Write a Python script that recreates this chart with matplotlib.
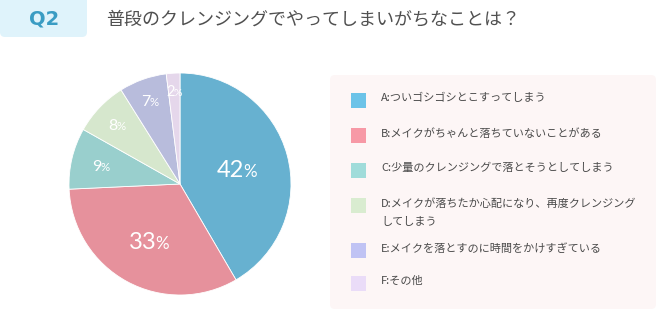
import numpy as np
import matplotlib
matplotlib.use('Agg')
import matplotlib.pyplot as plt
from matplotlib.patches import FancyBboxPatch, Rectangle

plt.rcParams['font.family'] = ['Noto Sans CJK JP', 'DejaVu Sans']

# data
labels = ['A:ついゴシゴシとこすってしまう',
          'B:メイクがちゃんと落ちていないことがある',
          'C:少量のクレンジングで落とそうとしてしまう',
          'D:メイクが落ちたか心配になり、再度クレンジング\nしてしまう',
          'E:メイクを落とすのに時間をかけすぎている',
          'F:その他']
values = [42, 33, 9, 8, 7, 2]
pie_colors = ['#67b1d0', '#e6919c', '#99cfcd', '#d6e7cd', '#b8bcdc', '#e5d7eb']
legend_colors = ['#6cc3e8', '#f799a6', '#a0dcda', '#d9ecd0', '#c0c3f4', '#eadcf8']
title = '普段のクレンジングでやってしまいがちなことは？'

W, H = 658, 313
fig = plt.figure(figsize=(W / 100, H / 100), dpi=100)

# overlay in pixel coords
bg = fig.add_axes([0, 0, 1, 1])
bg.set_xlim(0, W)
bg.set_ylim(H, 0)
bg.axis('off')

bg.add_patch(FancyBboxPatch((0, -6), 87, 43, boxstyle='round,pad=0,rounding_size=5',
                            fc='#dff3fb', ec='none'))
bg.text(44, 19, 'Q2', color='#3a9cc3', fontsize=14, fontweight='bold',
        ha='center', va='center', family='DejaVu Sans')
bg.text(106, 19, title, color='#505050', fontsize=13, ha='left', va='center')

bg.add_patch(FancyBboxPatch((330, 75), 326, 234, boxstyle='round,pad=0,rounding_size=5',
                            fc='#fdf6f6', ec='none'))
row_y = [100, 135, 170, 205, 250, 283]
for lab, c, y in zip(labels, legend_colors, row_y):
    bg.add_patch(Rectangle((351, y - 7), 15, 15, fc=c, ec='none'))
    bg.text(381, y - 7, lab, color='#4a4a4a', fontsize=8, ha='left', va='top',
            linespacing=2.0)

# pie
ax = fig.add_axes([69 / W, (H - 295) / H, 222 / W, 222 / H])
wedges, _ = ax.pie(values, colors=pie_colors, startangle=90, counterclock=False,
                   radius=1, wedgeprops=dict(linewidth=0.6, edgecolor='white'))
ax.set_xlim(-1, 1)
ax.set_ylim(-1, 1)
ax.set_aspect('auto')

# labels: number + smaller percent sign, centred as a pair
label_r = [0.53, 0.58, 0.73, 0.78, 0.8, 0.84]
label_fs = [17, 17, 11.5, 11.5, 11.5, 10.5]
renderer = fig.canvas.get_renderer()
for w, v, r, fs in zip(wedges, values, label_r, label_fs):
    ang = np.deg2rad((w.theta1 + w.theta2) / 2)
    x, y = r * np.cos(ang), r * np.sin(ang)
    pfs = fs * 0.72
    font = dict(color='white', va='baseline', family=['Lato', 'DejaVu Sans'])
    t1 = ax.annotate(str(v), (x, y), xytext=(0, -0.36 * fs), textcoords='offset points',
                     fontsize=fs, ha='left', **font)
    t2 = ax.annotate('%', (x, y), xytext=(0, -0.36 * fs), textcoords='offset points',
                     fontsize=pfs, ha='left', **font)
    w1 = t1.get_window_extent(renderer).width * 72 / fig.dpi
    w2 = t2.get_window_extent(renderer).width * 72 / fig.dpi
    gap = -0.06 * fs
    start = -(w1 + w2 + gap) / 2
    t1.set_position((start, -0.36 * fs))
    t2.set_position((start + w1 + gap, -0.36 * fs))

fig.savefig('out.png', dpi=100)
